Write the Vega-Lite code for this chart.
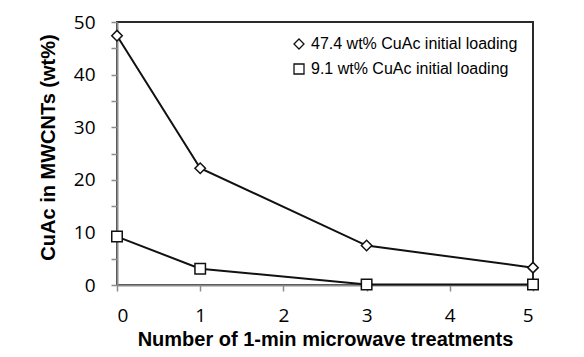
{
  "$schema": "https://vega.github.io/schema/vega-lite/v6.json",
  "autosize": {"type": "none"},
  "width": 416,
  "height": 263,
  "padding": {"left": 117, "top": 22, "right": 51, "bottom": 72},
  "background": "white",
  "config": {
    "view": {"stroke": "#2a2a2a", "strokeWidth": 2},
    "axis": {"grid": false, "domainColor": "#8c8c8c", "domainWidth": 2, "tickColor": "#8c8c8c", "tickWidth": 1.5, "tickSize": 6,
      "labelFont": "Open Sans", "labelFontSize": 19, "labelColor": "#000", "titleFont": "Liberation Sans", "titleFontWeight": "bold", "titleFontSize": 20, "titleColor": "#000"}
  },
  "data": {"values": [
    {"n": 0, "v": 47.4, "s": "47.4 wt% CuAc initial loading"},
    {"n": 1, "v": 22.2, "s": "47.4 wt% CuAc initial loading"},
    {"n": 3, "v": 7.5, "s": "47.4 wt% CuAc initial loading"},
    {"n": 5, "v": 3.3, "s": "47.4 wt% CuAc initial loading"},
    {"n": 0, "v": 9.2, "s": "9.1 wt% CuAc initial loading"},
    {"n": 1, "v": 3.1, "s": "9.1 wt% CuAc initial loading"},
    {"n": 3, "v": 0.1, "s": "9.1 wt% CuAc initial loading"},
    {"n": 5, "v": 0.1, "s": "9.1 wt% CuAc initial loading"}
  ]},
  "encoding": {
    "x": {"field": "n", "type": "quantitative", "scale": {"domain": [0, 5], "nice": false},
      "axis": {"values": [0, 1, 2, 3, 4, 5], "title": "Number of 1-min microwave treatments", "labelPadding": 15, "titlePadding": 4}},
    "y": {"field": "v", "type": "quantitative", "scale": {"domain": [0, 50], "nice": false},
      "axis": {"values": [0, 5, 10, 15, 20, 25, 30, 35, 40, 45, 50], "labelExpr": "datum.value % 10 === 0 ? datum.label : ''", "title": "CuAc in MWCNTs (wt%)", "titleY": 125, "labelPadding": 16, "titlePadding": 15}}
  },
  "layer": [
    {"mark": {"type": "line", "color": "#111", "strokeWidth": 2}, "encoding": {"detail": {"field": "s"}}},
    {"mark": {"type": "point", "filled": false, "fill": "white", "strokeWidth": 1.5, "size": 110, "opacity": 1, "fillOpacity": 1},
      "encoding": {
        "color": {"field": "s", "type": "nominal",
          "scale": {"domain": ["47.4 wt% CuAc initial loading", "9.1 wt% CuAc initial loading"], "range": ["#111", "#111"]},
          "legend": {"title": null, "orient": "none", "legendX": 174, "legendY": 14, "labelFont": "Liberation Sans", "labelFontSize": 16, "labelColor": "#000", "labelLimit": 400,
            "symbolFillColor": "white", "symbolStrokeWidth": 1.3, "symbolSize": 100, "symbolOpacity": 1, "rowPadding": 9, "labelOffset": 4}},
        "shape": {"field": "s", "type": "nominal",
          "scale": {"domain": ["47.4 wt% CuAc initial loading", "9.1 wt% CuAc initial loading"], "range": ["diamond", "square"]},
          "legend": {"title": null, "orient": "none", "legendX": 174, "legendY": 14, "labelFont": "Liberation Sans", "labelFontSize": 16, "labelColor": "#000", "labelLimit": 400,
            "symbolFillColor": "white", "symbolStrokeWidth": 1.3, "symbolSize": 100, "symbolOpacity": 1, "rowPadding": 9, "labelOffset": 4}}}}
  ]
}
